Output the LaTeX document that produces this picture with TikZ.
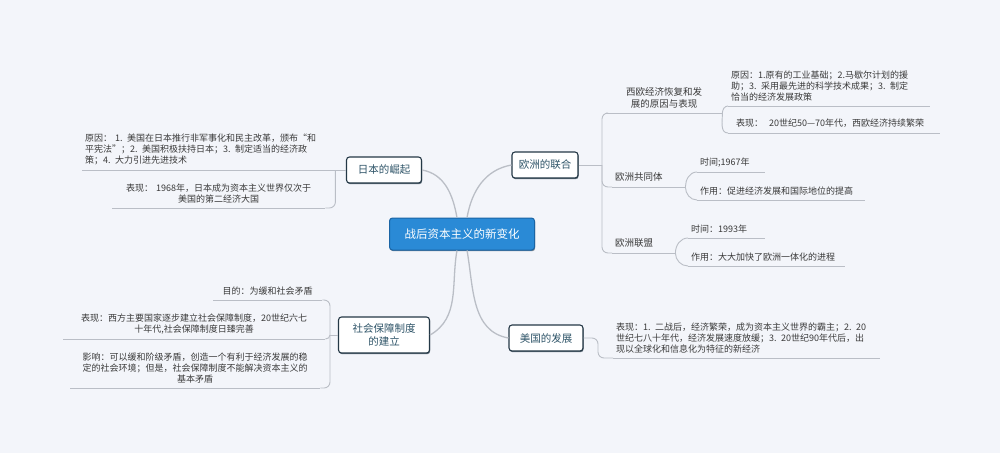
\documentclass[tikz,border=0pt]{standalone}
\usepackage{fontspec}
\setmainfont{Noto Sans CJK SC}
\usepackage{tikz}
\usetikzlibrary{positioning,calc,shadows}

\definecolor{bgcol}{RGB}{243,245,250}
\definecolor{linecol}{RGB}{186,190,198}
\definecolor{boxline}{RGB}{36,56,70}
\definecolor{boxtext}{RGB}{46,84,104}
\definecolor{maincol}{RGB}{42,138,214}
\definecolor{mainline}{RGB}{26,100,164}
\definecolor{leaftext}{RGB}{58,58,58}

\begin{document}
\begin{tikzpicture}
    [
      x=1pt, y=1pt,
      root/.style={rectangle, rounded corners=3pt, draw=mainline, line width=1pt, fill=maincol, text=white,
        font=\fontsize{11.5}{14}\selectfont, minimum width=145pt, minimum height=32pt,
        drop shadow={shadow xshift=0.6pt, shadow yshift=-1.2pt, fill=boxline, opacity=0.6}},
      topic/.style={rectangle, rounded corners=3pt, draw=boxline, line width=1.1pt, fill=white, text=boxtext,
        font=\fontsize{10.5}{12.5}\selectfont, align=center, minimum height=26pt,
        drop shadow={shadow xshift=0.6pt, shadow yshift=-1.2pt, fill=boxline, opacity=0.7}},
      sub/.style={anchor=south west, inner xsep=3pt, inner ysep=5pt, text=leaftext,
        font=\fontsize{9.5}{11.5}\selectfont, text width=#1, align=center},
      leaf/.style={anchor=south west, inner xsep=3pt, inner ysep=5pt, text=leaftext,
        font=\fontsize{9}{11}\selectfont, text width=#1},
      link/.style={draw=linecol, line width=1.3pt},
      under/.style={draw=linecol, line width=0.9pt, rounded corners=6pt}
    ]
    \fill [bgcol] (0,0) rectangle (1000,-453);

    % centre and main topics
    \node (root) [root] at (462,-234) {战后资本主义的新变化};
    \node (japan) [topic, minimum width=75pt] at (384,-170) {日本的崛起};
    \node (europe) [topic, minimum width=66pt] at (545,-165) {欧洲的联合};
    \node (social) [topic, minimum width=91pt, minimum height=36pt] at (384,-335) {社会保障制度\\的建立};
    \node (usa) [topic, minimum width=74pt] at (546,-338) {美国的发展};

    % Japan
    \node (jcause) [leaf=247pt, align=left] at (82,-170)
      {原因： 1. 美国在日本推行非军事化和民主改革，颁布“和\\平宪法”；2. 美国积极扶持日本；3. 制定适当的经济政\\策；4. 大力引进先进技术};
    \node (jshow) [leaf=207pt, align=center] at (112,-208)
      {表现： 1968年，日本成为资本主义世界仅次于\\美国的第二经济大国};

    % Europe
    \node (esub1) [sub=110pt] at (606,-113) {西欧经济恢复和发\\展的原因与表现};
    \node (ecause) [leaf=196pt, align=left] at (728,-106)
      {原因：1.原有的工业基础；2.马歇尔计划的援\\助；3. 采用最先进的科学技术成果；3. 制定\\恰当的经济发展政策};
    \node (eshow) [leaf=206pt, align=left] at (728,-133) {\hspace{5pt}表现：\ \ 20世纪50—70年代，西欧经济持续繁荣};
    \node (esub2) [sub=67pt, align=left] at (612,-187) {欧洲共同体};
    \node (ec1) [leaf=62pt, align=left] at (697,-172) {时间;1967年};
    \node (ec2) [leaf=162pt, align=left] at (697,-200) {作用：促进经济发展和国际地位的提高};
    \node (esub3) [sub=57pt, align=left] at (612,-253) {欧洲联盟};
    \node (eu1) [leaf=71pt, align=left] at (688,-238) {时间：1993年};
    \node (eu2) [leaf=151pt, align=left] at (688,-266) {作用：大大加快了欧洲一体化的进程};

    % social security
    \node (saim) [leaf=103pt, align=center] at (213,-300) {目的：为缓和社会矛盾};
    \node (sshow) [leaf=256pt, align=center] at (63,-339)
      {表现：西方主要国家逐步建立社会保障制度，20世纪六七\\十年代,社会保障制度日臻完善};
    \node (seffect) [leaf=244pt, align=center] at (70,-388)
      {影响：可以缓和阶级矛盾，创造一个有利于经济发展的稳\\定的社会环境；但是，社会保障制度不能解决资本主义的\\基本矛盾};

    % USA
    \node (ashow) [leaf=261pt, align=left] at (613,-358)
      {表现：1. 二战后，经济繁荣，成为资本主义世界的霸主；2. 20\\世纪七八十年代，经济发展速度放缓；3. 20世纪90年代后，出\\现以全球化和信息化为特征的新经济};

    \coordinate (ej) at (602,-165);
    \coordinate (sj) at (330,-335);
    \coordinate (aj) at (598,-338);

    % branches from the centre
    \draw [link] (japan.east) to[out=-10, in=100] (root.107);
    \draw [link] (europe.west) to[out=190, in=80] (root.73);
    \draw [link] (social.east) to[out=30, in=-100] (root.-107);
    \draw [link] (usa.west) to[out=170, in=-80] (root.-73);

    % underlines
    \foreach \n in {jcause,jshow,esub1,ecause,eshow,esub2,ec1,ec2,esub3,eu1,eu2,saim,sshow,seffect,ashow}
      \draw [under] (\n.south west) -- (\n.south east);

    % braces
    \draw [under] (japan.west) -- (jcause.south east);
    \draw [under] (jcause.south east) |- (jshow.south east);
    \draw [under] (europe.east) -- (ej);
    \foreach \j in {esub1,esub2,esub3}
      \draw [under] (ej) |- (\j.south west);
    \foreach \i/\j/\k in {esub1/ecause/eshow,esub2/ec1/ec2,esub3/eu1/eu2} {
      \draw [under] (\i.south east) to[out=90, in=180] (\j.south west);
      \draw [under] (\i.south east) to[out=-90, in=180] (\k.south west);
    }
    \draw [under] (social.west) -- (sj);
    \draw [under] (sj) |- (saim.south east);
    \draw [under] (sj) |- (seffect.south east);
    \draw [under] (sj) to[out=-90, in=0] (sshow.south east);
    \draw [under] (usa.east) -- (aj) |- (ashow.south west);
\end{tikzpicture}
\end{document}
